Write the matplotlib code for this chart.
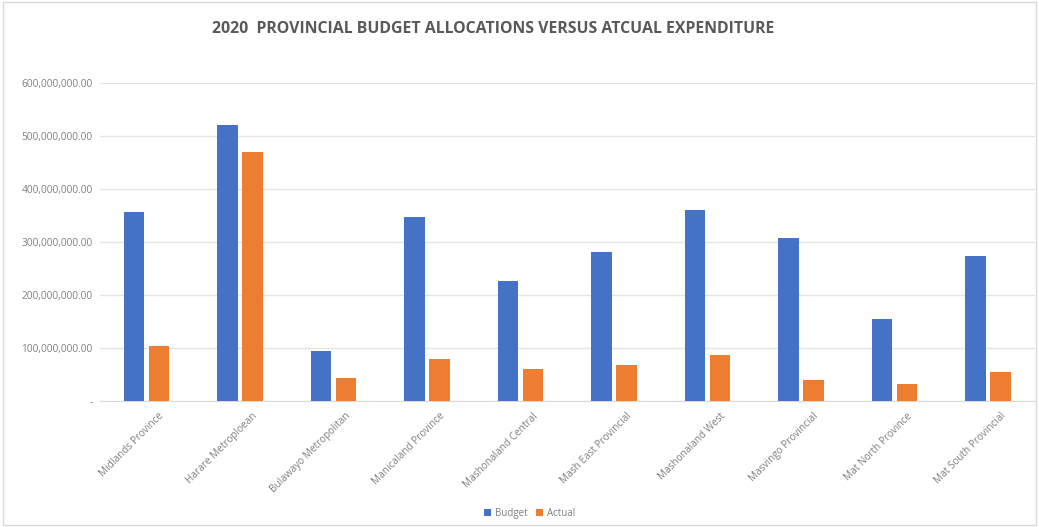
import matplotlib
matplotlib.use("Agg")
import matplotlib.pyplot as plt
import numpy as np
from matplotlib.ticker import FuncFormatter
from matplotlib.patches import Rectangle
from matplotlib.transforms import ScaledTranslation

categories = ["Midlands Province", "Harare Metroploean", "Bulawayo Metropolitan",
              "Manicaland Province", "Mashonaland Central", "Mash East Provincial",
              "Mashonaland West", "Masvingo Provincial", "Mat North Province",
              "Mat South Provincial"]
budget = [357e6, 521e6, 94e6, 347e6, 226e6, 281e6, 360e6, 308e6, 155e6, 274e6]
actual = [104e6, 470e6, 43e6, 79e6, 60e6, 68e6, 86e6, 39e6, 33e6, 54e6]
yticks = [0, 100e6, 200e6, 300e6, 400e6, 500e6, 600e6]

plt.rcParams['font.family'] = ['Open Sans', 'DejaVu Sans']
fig = plt.figure(figsize=(10.39, 5.27), dpi=100)
ax = fig.add_axes([0.096, 0.239, 0.9, 0.603])

x = np.arange(len(categories))
w = 0.22
off = 0.135
ax.bar(x - off, budget, w, color="#4472C4", label="Budget", zorder=3)
ax.bar(x + off, actual, w, color="#ED7D31", label="Actual", zorder=3)

ax.set_xlim(-0.5, len(categories) - 0.5)
ax.set_ylim(0, 600e6)
ax.set_yticks(yticks)
ax.yaxis.set_major_formatter(FuncFormatter(lambda v, p: "-" if v == 0 else f"{v:,.2f}"))
ax.grid(axis="y", color="#e4e4e4", linewidth=1, zorder=0)
for s in ["top", "right", "left"]:
    ax.spines[s].set_visible(False)
ax.spines["bottom"].set_color("#d9d9d9")
ax.tick_params(axis="both", length=0, colors="#7f7f7f")
ax.tick_params(axis="y", pad=5, labelsize=7.3)
ax.set_xticks(x)
ax.set_xticklabels(categories, rotation=45, ha="right", rotation_mode="anchor",
                   fontsize=7.2, color="#7f7f7f")
ax.tick_params(axis="x", pad=7)
shift = ScaledTranslation(12 / 100, 0, fig.dpi_scale_trans)
for lab in ax.get_xticklabels():
    lab.set_transform(lab.get_transform() + shift)

fig.text(0.475, 0.945, "2020  PROVINCIAL BUDGET ALLOCATIONS VERSUS ATCUAL EXPENDITURE",
         ha="center", va="center", fontsize=11.4, fontweight="bold", color="#595959")

leg = fig.legend(loc="center", bbox_to_anchor=(0.51, 0.026), ncol=2, frameon=False,
                 fontsize=7, handlelength=0.7, handleheight=0.7, columnspacing=0.9,
                 handletextpad=0.4)
for t in leg.get_texts():
    t.set_color("#7f7f7f")

fig.patches.append(Rectangle((0.003, 0.003), 0.994, 0.994, transform=fig.transFigure,
                             fill=False, edgecolor="#d9d9d9", linewidth=1))

fig.savefig("out.png", dpi=100)
